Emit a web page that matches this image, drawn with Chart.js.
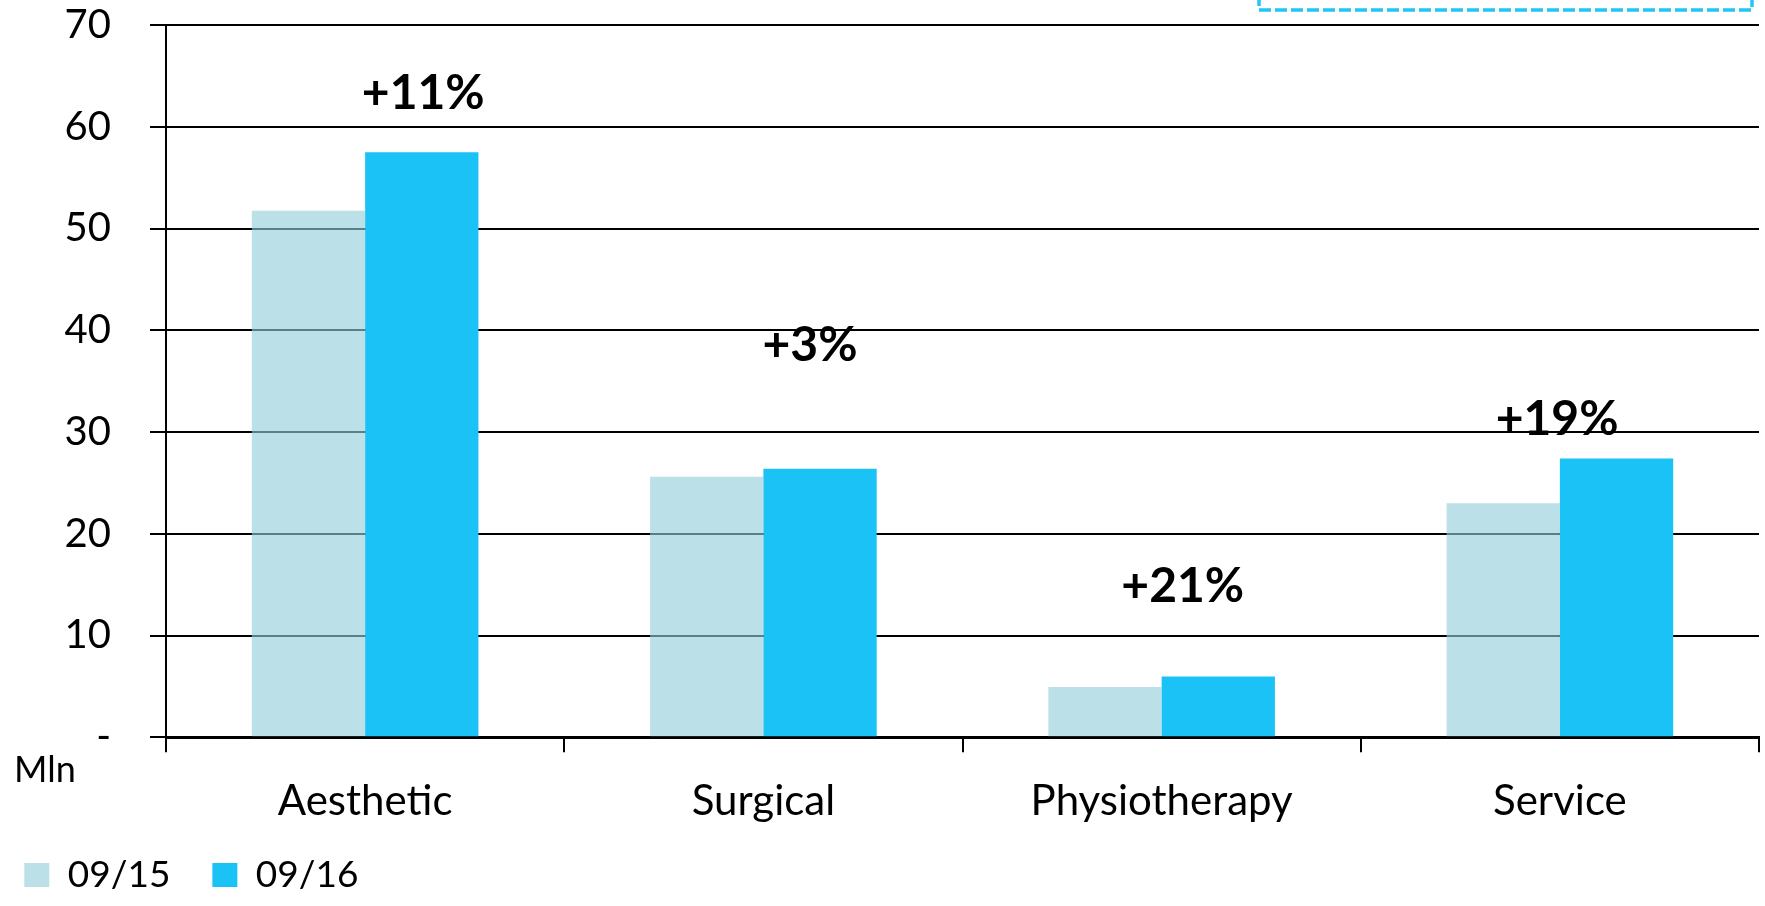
<!DOCTYPE html>
<html>
<head>
<meta charset="utf-8">
<script src="https://cdn.jsdelivr.net/npm/chart.js@4/dist/chart.umd.min.js"></script>
<style>
  html, body { margin: 0; padding: 0; background: #ffffff; }
  canvas { display: block; }
</style>
</head>
<body>
<canvas id="chart" width="1765" height="906"></canvas>
<script>
// ---- data ----
const categories = ['Aesthetic', 'Surgical', 'Physiotherapy', 'Service'];
const seriesLabels = ['09/15', '09/16'];
const values0915 = [51.75, 25.6, 4.95, 23.0];
const values0916 = [57.5, 26.4, 5.98, 27.4];
const growthLabels = ['+11%', '+3%', '+21%', '+19%'];
const yTickValues = [0, 10, 20, 30, 40, 50, 60, 70];
const yTickLabels = ['-', '10', '20', '30', '40', '50', '60', '70'];
const unitLabel = 'Mln';

// ---- styling / placement ----
const FONT = 'Lato, "Open Sans", "DejaVu Sans", sans-serif';
const growthPlacement = {
  xOffset: [0.146, 0.117, 0.053, -0.007],   // in category units from the category centre
  yValue: [63.25, 38.5, 14.8, 31.2]          // vertical centre in data units
};
const legendBox = { left: -17.7, top: 814.5 };

const decorations = {
  id: 'decorations',
  afterLayout(chart) {
    const lg = chart.legend;
    const w = lg.right - lg.left;
    lg.left = legendBox.left;
    lg.right = legendBox.left + w;
    lg.top = legendBox.top;
    lg.bottom = chart.height;
    lg.height = lg.bottom - lg.top;
  },
  afterDatasetsDraw(chart) {
    const ctx = chart.ctx;
    const xs = chart.scales.x, ys = chart.scales.y;
    ctx.save();
    ctx.fillStyle = '#000000';
    ctx.font = 'bold 48px ' + FONT;
    ctx.textAlign = 'center';
    ctx.textBaseline = 'middle';
    growthLabels.forEach((t, i) => {
      const x = xs.getPixelForValue(i + growthPlacement.xOffset[i]);
      const y = ys.getPixelForValue(growthPlacement.yValue[i]);
      ctx.fillText(t, x, y);
    });
    ctx.restore();
  },
  afterDraw(chart) {
    const ctx = chart.ctx;
    ctx.save();
    // unit label
    ctx.fillStyle = '#000000';
    ctx.font = '36px ' + FONT;
    ctx.textAlign = 'left';
    ctx.textBaseline = 'middle';
    ctx.fillText(unitLabel, 14, 770);
    // dashed frame partly outside the top edge
    ctx.strokeStyle = '#1FC6F6';
    ctx.lineWidth = 3.5;
    ctx.setLineDash([12, 4]);
    ctx.strokeRect(1259, -40, 493, 50);
    ctx.restore();
  }
};

const ctx = document.getElementById('chart').getContext('2d');
new Chart(ctx, {
  type: 'bar',
  data: {
    labels: categories,
    datasets: [
      {
        label: seriesLabels[0],
        data: values0915,
        backgroundColor: 'rgba(146, 205, 218, 0.62)',
        borderWidth: 0,
        categoryPercentage: 0.569,
        barPercentage: 1.0
      },
      {
        label: seriesLabels[1],
        data: values0916,
        backgroundColor: '#1BC2F6',
        borderWidth: 0,
        categoryPercentage: 0.569,
        barPercentage: 1.0
      }
    ]
  },
  options: {
    responsive: false,
    animation: false,
    devicePixelRatio: 1,
    layout: { padding: { top: 25, right: 6, bottom: 2.5, left: 0 } },
    plugins: {
      legend: {
        display: true,
        position: 'bottom',
        align: 'start',
        maxHeight: 60,
        labels: {
          boxWidth: 25,
          boxHeight: 24,
          padding: 42,
          color: '#000000',
          font: { family: FONT, size: 37 }
        }
      },
      tooltip: { enabled: false },
      title: { display: false }
    },
    scales: {
      x: {
        offset: true,
        grid: {
          display: true,
          offset: true,
          drawOnChartArea: false,
          drawTicks: true,
          tickLength: 15,
          tickColor: '#000000',
          lineWidth: 2,
          color: '#000000'
        },
        border: { display: true, color: '#000000', width: 3 },
        ticks: {
          color: '#000000',
          padding: 23.5,
          maxRotation: 0,
          font: { family: FONT, size: 42 }
        },
        afterFit(scale) { scale.height = 106.2; }
      },
      y: {
        min: 0,
        max: 70,
        grid: {
          color: '#000000',
          lineWidth: 2,
          drawTicks: true,
          tickLength: 16,
          tickColor: '#000000'
        },
        border: { display: true, color: '#000000', width: 2 },
        ticks: {
          stepSize: 10,
          color: '#000000',
          padding: 39,
          font: { family: FONT, size: 40 },
          callback: (v) => {
            const i = yTickValues.indexOf(v);
            return i >= 0 ? yTickLabels[i] : String(v);
          }
        },
        afterFit(scale) {
          scale.width = 166;
          scale.paddingTop = 20;
          scale.paddingBottom = 20;
        }
      }
    }
  },
  plugins: [decorations]
});
</script>
</body>
</html>
